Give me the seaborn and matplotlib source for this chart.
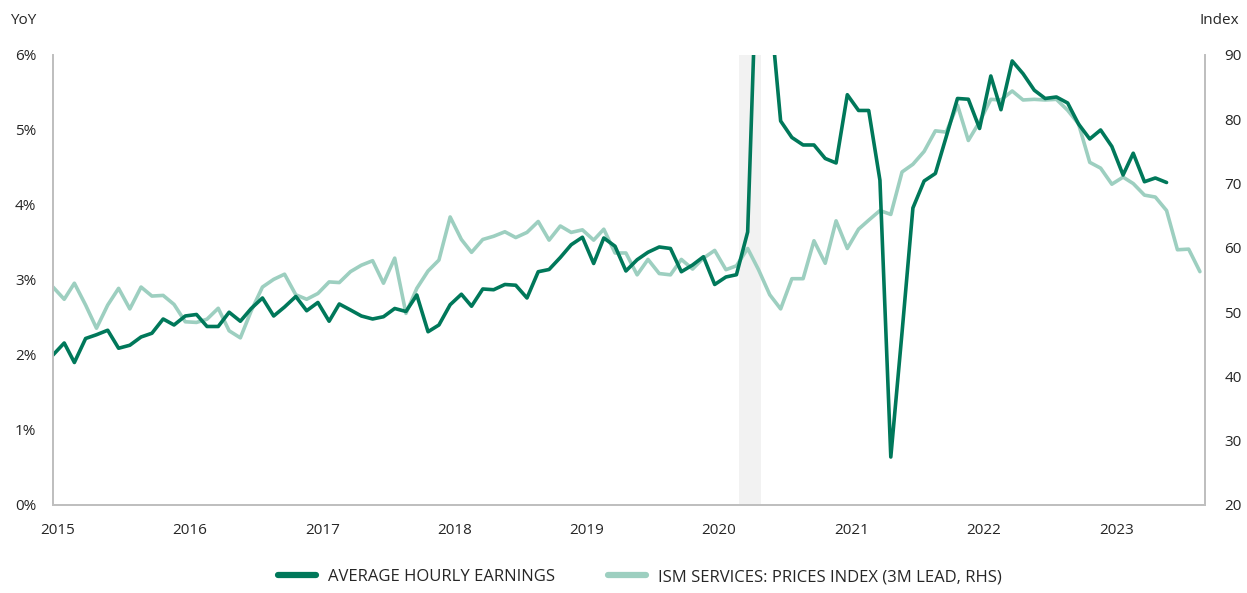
import pandas as pd
import matplotlib.pyplot as plt
import seaborn as sns
import matplotlib
matplotlib.use('Agg')
from matplotlib.ticker import FuncFormatter

sns.set_style("white")
plt.rcParams['font.family'] = ['Open Sans', 'DejaVu Sans']
plt.rcParams['axes.unicode_minus'] = False

# average hourly earnings, YoY %, monthly from Dec 2014
ahe = [2.00, 2.16, 1.90, 2.22, 2.27, 2.33, 2.09, 2.13, 2.24, 2.29, 2.48, 2.40,
       2.52, 2.54, 2.38, 2.38, 2.57, 2.45, 2.62, 2.76, 2.52, 2.64, 2.78, 2.59,
       2.70, 2.45, 2.68, 2.60, 2.52, 2.48, 2.51, 2.62, 2.58, 2.80, 2.31, 2.40,
       2.67, 2.81, 2.65, 2.88, 2.87, 2.94, 2.93, 2.76, 3.11, 3.14, 3.30, 3.47,
       3.57, 3.22, 3.56, 3.45, 3.12, 3.27, 3.37, 3.44, 3.42, 3.11, 3.20, 3.31,
       2.94, 3.04, 3.07, 3.64, 8.00, 6.70, 5.12, 4.90, 4.80, 4.80, 4.62, 4.56,
       5.47, 5.26, 5.26, 4.33, 0.64, 2.30, 3.96, 4.32, 4.42, 4.91, 5.42, 5.41,
       5.02, 5.72, 5.27, 5.92, 5.75, 5.53, 5.42, 5.44, 5.36, 5.08, 4.88, 5.00,
       4.78, 4.40, 4.69, 4.31, 4.36, 4.30]

# ISM services prices index, shifted 3 months ahead
ism = [53.9, 52.0, 54.5, 51.1, 47.5, 51.1, 53.7, 50.5, 53.9, 52.5, 52.6, 51.2,
       48.5, 48.4, 48.9, 50.6, 47.1, 46.0, 50.2, 53.9, 55.1, 55.9, 52.7, 52.0,
       52.9, 54.7, 54.6, 56.3, 57.3, 58.0, 54.5, 58.4, 49.8, 53.7, 56.4, 58.1,
       64.8, 61.3, 59.3, 61.3, 61.8, 62.5, 61.6, 62.4, 64.1, 61.2, 63.4, 62.4,
       62.8, 61.2, 62.9, 59.2, 59.2, 55.8, 58.2, 56.0, 55.8, 58.2, 56.7, 58.4,
       59.6, 56.6, 57.2, 59.9, 56.6, 52.7, 50.5, 55.2, 55.2, 61.1, 57.6, 64.2,
       59.9, 62.9, 64.3, 65.8, 65.2, 71.8, 73.0, 75.0, 78.2, 78.0, 82.2, 76.7,
       79.6, 83.1, 83.0, 84.4, 83.0, 83.1, 83.0, 83.1, 81.4, 79.3, 73.3, 72.4,
       69.9, 71.0, 70.0, 68.2, 67.9, 65.8, 59.7, 59.8, 56.3]

years = list(range(2015, 2024))
recession = ('2020-03-08', '2020-05-06')

dark = '#00785a'
light = '#9dcfc0'
grey = '#bfbfbf'
txt = '#262626'

dates = pd.date_range('2014-12-01', periods=len(ism), freq='MS') + pd.offsets.MonthEnd(0)
df1 = pd.DataFrame({'date': dates[:len(ahe)], 'val': ahe})
df2 = pd.DataFrame({'date': dates, 'val': ism})

fig = plt.figure(figsize=(12.47, 5.93), dpi=100)
ax = fig.add_axes([0.0425, 0.1484, 0.9238, 0.7589])
ax2 = ax.twinx()
ax.set_zorder(2)
ax.patch.set_visible(False)
ax2.set_zorder(1)

ax2.axvspan(pd.Timestamp(recession[0]), pd.Timestamp(recession[1]), color='#f2f2f2', lw=0, zorder=0)
sns.lineplot(x='date', y='val', data=df2, ax=ax2, color=light, lw=2.6,
             label='ISM SERVICES: PRICES INDEX (3M LEAD, RHS)', legend=False)
sns.lineplot(x='date', y='val', data=df1, ax=ax, color=dark, lw=2.6,
             label='AVERAGE HOURLY EARNINGS', legend=False)

ax.set_ylim(0, 6)
ax2.set_ylim(20, 90)
ax.set_yticks(range(0, 7))
ax2.set_yticks(range(20, 91, 10))
ax.yaxis.set_major_formatter(FuncFormatter(lambda v, p: f'{v:.0f}%'))
ax.set_xlim(dates[0], dates[-1] + pd.Timedelta(days=14))
ax.set_xticks([pd.Timestamp(f'{y}-01-12') for y in years])
ax.set_xticklabels([str(y) for y in years])

for a in (ax, ax2):
    a.set_xlabel('')
    a.set_ylabel('')
    for s in a.spines.values():
        s.set_color(grey)
        s.set_linewidth(1.3)
    a.spines['top'].set_visible(False)
    a.tick_params(length=0, labelsize=11, colors=txt)
ax.tick_params(axis='y', pad=12)
ax.tick_params(axis='x', pad=13)
ax2.tick_params(axis='y', pad=14)

fig.text(0.008, 0.965, 'YoY', fontsize=11, color=txt, va='center')
fig.text(0.994, 0.965, 'Index', fontsize=11, color=txt, va='center', ha='right')

h1, l1 = ax.get_legend_handles_labels()
h2, l2 = ax2.get_legend_handles_labels()
leg = fig.legend(h1 + h2, l1 + l2, loc='lower center', bbox_to_anchor=(0.513, -0.012), ncol=2,
                 frameon=False, fontsize=12, handlelength=2.3, columnspacing=3.2, handletextpad=0.7)
for line in leg.get_lines():
    line.set_linewidth(4.5)
for t in leg.get_texts():
    t.set_color(txt)

plt.savefig('out.png', dpi=100)
